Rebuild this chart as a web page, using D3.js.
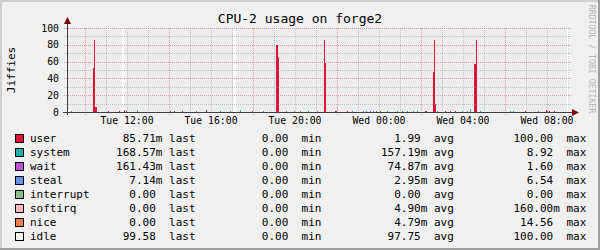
<!DOCTYPE html>
<html>
<head>
<meta charset="utf-8">
<script src="https://cdn.jsdelivr.net/npm/d3@7"></script>
<style>
  body { margin: 0; background: #fff; }
  text { font-family: "DejaVu Sans Mono", monospace; }
</style>
</head>
<body>
<script>
// chart values (times are Tue from 09:00 on, Wed before)
let keys = ["user", "system", "wait", "steal", "interrupt", "softirq", "nice"];
let colors = ["#DC143C", "#20B2AA", "#BA55D3", "#6495ED", "#8FBC8F", "#FFB6C1", "#FF7F50"];

let user = [["10:23", 52], ["10:26", 86], ["10:29", 6], ["10:31", 6], ["11:06", 1.3], ["11:37", 1.3],
  ["11:51", 1.5], ["11:57", 1.5], ["14:03", 1.3], ["14:14", 1.3], ["14:37", 1.3], ["15:46", 1.8],
  ["17:57", 1.3], ["19:06", 80], ["19:09", 80], ["19:12", 64], ["21:23", 86], ["21:26", 58],
  ["21:54", 1.6], ["21:57", 1.6], ["22:29", 1.3], ["00:03", 1.6], ["02:12", 1.6], ["02:15", 1.6],
  ["02:34", 48], ["02:37", 86], ["02:40", 10], ["03:09", 1.3], ["03:37", 1.3], ["04:31", 57],
  ["04:34", 57], ["04:37", 86], ["06:57", 1.6], ["07:57", 2], ["08:06", 1.3], ["08:20", 1.3]];
let system = [["12:28", 2.8], ["16:26", 1.3], ["16:54", 1.3], ["17:23", 2], ["20:37", 1.3], ["22:43", 1.3],
  ["23:23", 1.3], ["23:43", 1.3], ["00:23", 1.3], ["00:52", 1.3], ["01:06", 1.3], ["01:20", 1.3],
  ["01:37", 1.3], ["01:49", 1.3], ["02:46", 1.3], ["03:57", 1.3], ["04:20", 2.6], ["04:49", 1.3],
  ["06:14", 1.3], ["06:23", 1.3]];
let wait = [["09:20", 1.5], ["11:51", 0.8], ["15:17", 1.3], ["18:29", 1.3], ["19:34", 1.3], ["19:57", 1.3],
  ["20:14", 1.3], ["21:03", 1.3], ["23:14", 1.3], ["23:34", 1.3], ["23:52", 1.3], ["03:23", 1.3],
  ["04:11", 1.3], ["07:34", 1.3], ["08:00", 1.3]];
let steal = [["04:20", 0.6]];
let interrupt = [];
let softirq = [];
let nice = [["19:12", 1.5]];

// spans where data is known (idle fills the rest up to 100)
let idleSpans = [["09:09", "11:47"], ["11:50", "17:03"], ["17:12", "08:57"]];

let yTicks = [0, 20, 40, 60, 80, 100];

let legendNames = ["user", "system", "wait", "steal", "interrupt", "softirq", "nice", "idle"];
let legendColors = colors.concat(["#F5F5F5"]);
let lastVals = ["85.71m", "168.57m", "161.43m", "7.14m", "0.00", "0.00", "0.00", "99.58"];
let minVals = ["0.00", "0.00", "0.00", "0.00", "0.00", "0.00", "0.00", "0.00"];
let avgVals = ["1.99", "157.19m", "74.87m", "2.95m", "0.00", "4.90m", "4.79m", "97.75"];
let maxVals = ["100.00", "8.92", "1.60", "6.54", "0.00", "160.00m", "14.56", "100.00"];

let step = 3; // minutes per sample

function toDate(s) {
  let [h, m] = s.split(":").map(Number);
  return new Date(2013, 0, h >= 9 ? 1 : 2, h, m);
}

let width = 600, height = 250;
let plot = {left: 67, right: 569, top: 28, bottom: 112};

let svg = d3.select("body").append("svg")
    .attr("width", width)
    .attr("height", height);

// background and 3d border
svg.append("rect").attr("width", width).attr("height", height).attr("fill", "#F0F0F0");
svg.append("path").attr("d", "M0,0H600V2H2V250H0Z").attr("fill", "#CFCFCF");
svg.append("path").attr("d", "M600,0V250H0V248H598V0Z").attr("fill", "#9E9E9E");

let xScale = d3.scaleTime()
    .domain([new Date(2013, 0, 1, 9, 8, 34), new Date(2013, 0, 2, 9, 2, 52)])
    .range([plot.left, plot.right]);
let yScale = d3.scaleLinear().domain([0, 100]).range([plot.bottom, plot.top]);

// canvas
svg.append("rect")
    .attr("x", plot.left).attr("y", plot.top)
    .attr("width", plot.right - plot.left).attr("height", plot.bottom - plot.top)
    .attr("fill", "#FFFFFF");

// idle fill
svg.append("g").selectAll("rect")
    .data(idleSpans)
  .enter().append("rect")
    .attr("x", d => xScale(toDate(d[0])))
    .attr("width", d => xScale(toDate(d[1])) - xScale(toDate(d[0])))
    .attr("y", yScale(100))
    .attr("height", yScale(0) - yScale(100))
    .attr("fill", "#ECECEC")
    .attr("shape-rendering", "crispEdges");

// build samples and stack them
let seriesData = {user, system, wait, steal, interrupt, softirq, nice};
let bins = new Map();
keys.forEach(k => {
  seriesData[k].forEach(([t, v]) => {
    if (!bins.has(t)) {
      let b = {t: toDate(t)};
      keys.forEach(kk => b[kk] = 0);
      bins.set(t, b);
    }
    bins.get(t)[k] += v;
  });
});
let samples = Array.from(bins.values()).sort((a, b) => a.t - b.t);
let stacked = d3.stack().keys(keys)(samples);

svg.append("g").selectAll("g")
    .data(stacked)
  .enter().append("g")
    .attr("fill", (d, i) => colors[i])
  .selectAll("rect")
    .data(d => d.filter(p => p[1] > p[0]))
  .enter().append("rect")
    .attr("shape-rendering", "crispEdges")
    .attr("x", d => xScale(d.data.t))
    .attr("width", d => Math.max(1, xScale(d3.timeMinute.offset(d.data.t, step)) - xScale(d.data.t)))
    .attr("y", d => yScale(d[1]))
    .attr("height", d => yScale(d[0]) - yScale(d[1]));

// grid
let hours = xScale.ticks(d3.timeHour.every(1));
let grid = svg.append("g").attr("shape-rendering", "crispEdges");
d3.range(0, 101, 10).forEach(v => {
  let major = v % 20 === 0;
  grid.append("line")
      .attr("x1", plot.left - 3).attr("x2", plot.right + 3)
      .attr("y1", Math.round(yScale(v)) + 0.5).attr("y2", Math.round(yScale(v)) + 0.5)
      .attr("stroke", major ? "rgba(200,60,60,0.45)" : "rgba(140,140,140,0.45)")
      .attr("stroke-dasharray", "1,1");
});
hours.forEach(h => {
  let major = h.getHours() % 4 === 2;
  grid.append("line")
      .attr("x1", Math.round(xScale(h)) + 0.5).attr("x2", Math.round(xScale(h)) + 0.5)
      .attr("y1", plot.top).attr("y2", plot.bottom + (major ? 3 : 2))
      .attr("stroke", major ? "rgba(200,60,60,0.45)" : "rgba(140,140,140,0.45)")
      .attr("stroke-dasharray", "1,1");
});

// axes
svg.append("line")
    .attr("x1", plot.left - 4).attr("x2", plot.right + 4)
    .attr("y1", plot.bottom + 0.5).attr("y2", plot.bottom + 0.5)
    .attr("stroke", "#404040");
svg.append("line")
    .attr("x1", plot.left + 0.5).attr("x2", plot.left + 0.5)
    .attr("y1", plot.bottom + 3).attr("y2", plot.top - 5)
    .attr("stroke", "#404040");
svg.append("path")
    .attr("d", `M${plot.right + 3},${plot.bottom - 3}L${plot.right + 10},${plot.bottom + 0.5}L${plot.right + 3},${plot.bottom + 4}Z`)
    .attr("fill", "#7F0000");
svg.append("path")
    .attr("d", `M${plot.left - 3},${plot.top - 4}L${plot.left + 0.5},${plot.top - 11}L${plot.left + 4},${plot.top - 4}Z`)
    .attr("fill", "#7F0000");

// tick labels
svg.append("g").selectAll("text")
    .data(yTicks)
  .enter().append("text")
    .attr("x", 59)
    .attr("y", d => yScale(d) + 3.5)
    .attr("text-anchor", "end")
    .attr("font-size", "9.8px")
    .text(d => d);

let fmt = d3.timeFormat("%a %H:%M");
svg.append("g").selectAll("text")
    .data(hours.filter(h => h.getHours() % 4 === 0))
  .enter().append("text")
    .attr("x", d => xScale(d))
    .attr("y", 124)
    .attr("text-anchor", "middle")
    .attr("font-size", "9.8px")
    .text(d => fmt(d));

// titles
svg.append("text")
    .attr("x", 300).attr("y", 23)
    .attr("text-anchor", "middle")
    .attr("font-size", "13px")
    .text("CPU-2 usage on forge2");
svg.append("text")
    .attr("transform", "translate(15,70) rotate(-90)")
    .attr("text-anchor", "middle")
    .attr("font-size", "11px")
    .text("Jiffies");
svg.append("text")
    .attr("transform", "translate(589,59) rotate(90)")
    .attr("text-anchor", "middle")
    .attr("font-size", "8.2px")
    .attr("fill", "#B8B8B8")
    .text("RRDTOOL / TOBI OETIKER");

// legend
function col(v, w) {
  let suf = v.endsWith("m") ? "m" : " ";
  let num = v.endsWith("m") ? v.slice(0, -1) : v;
  return num.padStart(w) + suf;
}
let legend = svg.append("g");
legendNames.forEach((name, i) => {
  let y = 142 + i * 14;
  legend.append("rect")
      .attr("x", 15.5).attr("y", y - 7.5)
      .attr("width", 8).attr("height", 8)
      .attr("fill", legendColors[i])
      .attr("stroke", "#000");
  legend.append("text")
      .attr("x", 30).attr("y", y)
      .attr("font-size", "11px")
      .attr("xml:space", "preserve")
      .style("white-space", "pre")
      .text(name.padEnd(12) + col(lastVals[i], 7) + " last" + col(minVals[i], 14) + " min" +
            col(avgVals[i], 15) + " avg" + col(maxVals[i], 15) + " max");
});
</script>
</body>
</html>
